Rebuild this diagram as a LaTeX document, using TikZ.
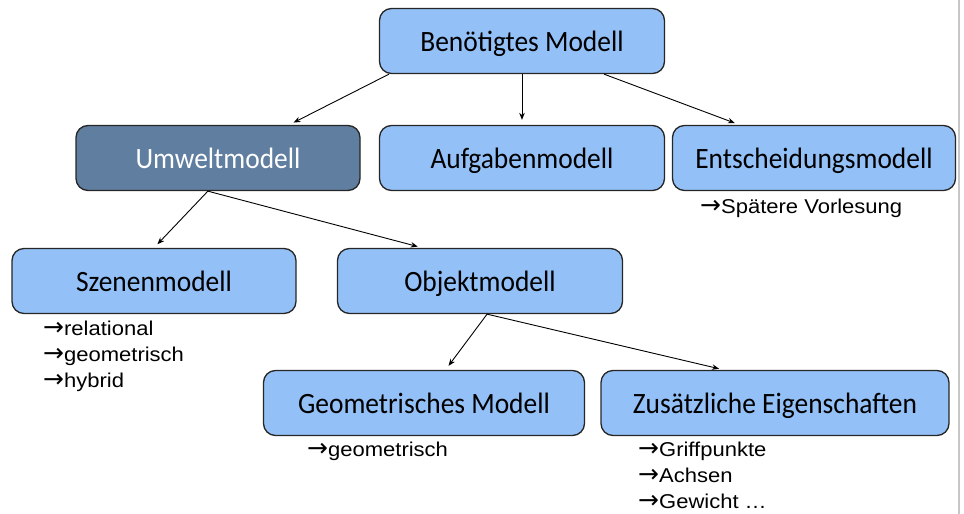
\documentclass[tikz,border=0pt]{standalone}
\usepackage{fontspec}
\setmainfont[FakeStretch=0.93]{Carlito}
\newfontfamily\notefont[FakeStretch=1.1]{Liberation Sans}
\newfontfamily\arrowfont{DejaVu Sans}
\usetikzlibrary{arrows.meta}

\definecolor{boxblue}{RGB}{147,192,246}
\definecolor{boxdark}{RGB}{96,126,160}
\newcommand{\ra}{{\arrowfont\fontsize{25}{26}\selectfont→}}

\begin{document}
\begin{tikzpicture}
  [x=1pt,y=-1pt,>={Stealth[length=7pt,width=5.5pt]},
   box/.style={draw=black!85,line width=1.3pt,rounded corners=12pt,fill=boxblue,
     minimum height=65pt,inner sep=0pt,text height=28.4pt,text depth=7pt,
     font=\fontsize{29.5}{34}\selectfont},
   note/.style={anchor=north west,align=left,inner sep=0pt,
     font=\notefont\fontsize{20}{26}\selectfont}]
  \useasboundingbox (0,0) rectangle (964,514);
  \draw[black!22,line width=1.5pt] (959,0) -- (959,514);

  \node[box,minimum width=285pt] (top) at (522,41) {Benötigtes Modell};
  \node[box,minimum width=284pt,fill=boxdark,text=white] (umw) at (218,158) {Umweltmodell};
  \node[box,minimum width=285pt] (auf) at (522,158) {Aufgabenmodell};
  \node[box,minimum width=283pt] (ent) at (814,158) {Entscheidungsmodell};
  \node[box,minimum width=284pt] (sze) at (154,281) {Szenenmodell};
  \node[box,minimum width=285pt] (obj) at (480,281) {Objektmodell};
  \node[box,minimum width=321pt] (geo) at (424,403) {Geometrisches Modell};
  \node[box,minimum width=348pt] (zus) at (775,403) {Zusätzliche Eigenschaften};

  \node[note] (n1) at (700,199) {\ra Spätere Vorlesung};
  \node[note] (n2) at (43,321) {\ra relational\\\ra geometrisch\\\ra hybrid};
  \node[note] (n3) at (307,442) {\ra geometrisch};
  \node[note] (n4) at (638,442) {\ra Griffpunkte\\\ra Achsen\\\ra Gewicht …};

  \foreach \from/\to in {top.-166/umw.25,top.south/auf.north,top.-22/ent.156,
    umw.-107/sze.north,umw.-107/obj.150,obj.-78/geo.57,obj.-78/zus.147}
    \draw[->,line width=0.9pt,shorten >=5pt] (\from) -- (\to);

\end{tikzpicture}
\end{document}
